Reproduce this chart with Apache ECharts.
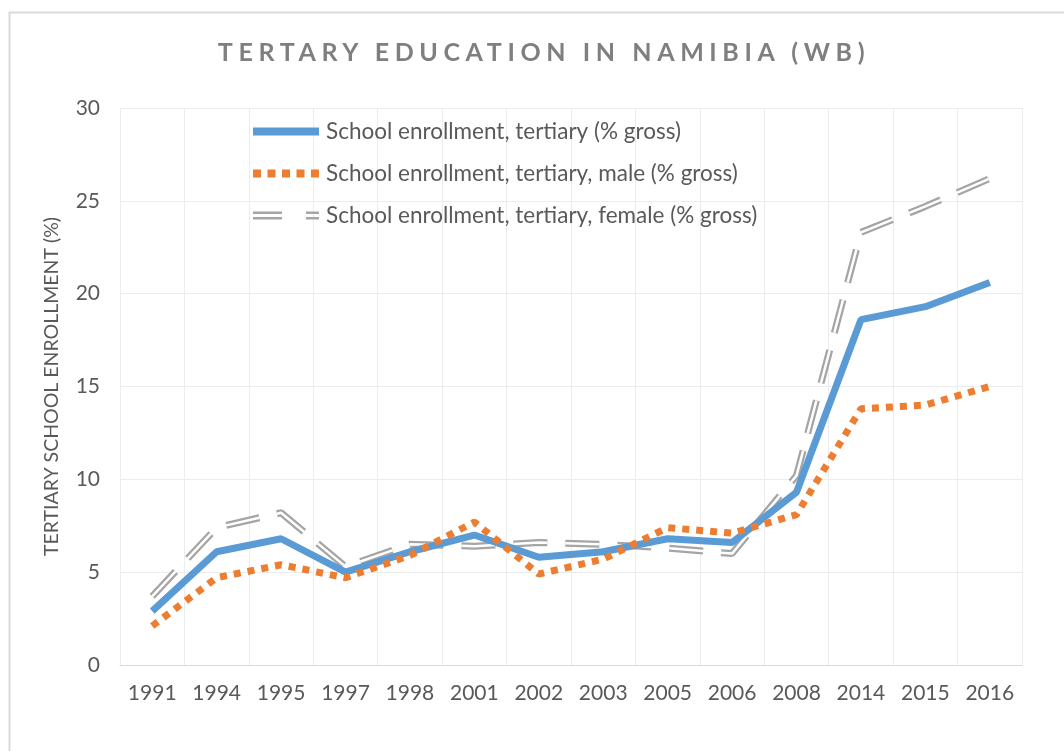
<!DOCTYPE html>
<html lang="en">
<head>
    <meta charset="UTF-8">
    <title>Tertiary education in Namibia</title>
    <style>
        html, body { margin: 0; padding: 0; background: #fff; }
        #wrap { position: relative; width: 1064px; height: 751px; overflow: hidden; }
        #title {
            position: absolute; left: 12px; top: 36px; width: 1064px; text-align: center;
            font-family: Lato, sans-serif; font-weight: bold; font-size: 25px;
            letter-spacing: 5.6px; color: #7f7f7f;
        }
        #main { width: 1064px; height: 751px; }
    </style>
    <script src="https://cdn.jsdelivr.net/npm/echarts@6/dist/echarts.min.js"></script>
</head>
<body>
<div id="wrap">
    <div id="main"></div>
    <div id="title">TERTARY EDUCATION IN NAMIBIA (WB)</div>
</div>
<script>
    var years = ['1991', '1994', '1995', '1997', '1998', '2001', '2002', '2003', '2005', '2006', '2008', '2014', '2015', '2016'];
    var total = [2.9, 6.1, 6.8, 5.0, 6.1, 7.0, 5.8, 6.1, 6.8, 6.6, 9.3, 18.6, 19.3, 20.6];
    var male = [2.1, 4.7, 5.4, 4.7, 5.9, 7.7, 4.9, 5.7, 7.4, 7.1, 8.1, 13.8, 14.0, 15.0];
    var female = [3.7, 7.4, 8.2, 5.3, 6.5, 6.4, 6.6, 6.5, 6.3, 6.0, 10.2, 23.3, 24.7, 26.2];
    var yTicks = [0, 5, 10, 15, 20, 25, 30];

    var nameTotal = 'School enrollment, tertiary (% gross)';
    var nameMale = 'School enrollment, tertiary, male (% gross)';
    var nameFemale = 'School enrollment, tertiary, female (% gross)';

    var myChart = echarts.init(document.getElementById('main'));
    var txt = '#595959';
    var font = 'Lato, sans-serif';

    myChart.setOption({
        animation: false,
        graphic: [{
            type: 'rect', left: 7, top: 10, shape: { width: 1100, height: 800 },
            style: { fill: 'none', stroke: '#d9d9d9', lineWidth: 2 }
        }],
        legend: {
            orient: 'vertical',
            left: 248,
            top: 115,
            itemWidth: 66,
            itemHeight: 8,
            itemGap: 19,
            textStyle: { color: txt, fontSize: 22.5, lineHeight: 22, fontFamily: font, padding: [0, 0, 0, 2] },
            data: [
                { name: nameTotal, icon: 'path://M0,0h66v8h-66z' },
                { name: nameMale, icon: 'path://M0,0h8v8h-8z M14.5,0h8v8h-8z M29,0h8v8h-8z M43.5,0h8v8h-8z M58,0h8v8h-8z' },
                { name: nameFemale, icon: 'path://M0,0h29v2.5h-29z M0,5.5h29v2.5h-29z M53,0h13v2.5h-13z M53,5.5h13v2.5h-13z' }
            ]
        },
        grid: { left: 120, right: 42, top: 108, bottom: 86 },
        xAxis: {
            type: 'category',
            data: years,
            axisTick: { show: false },
            axisLine: { lineStyle: { color: '#d9d9d9', width: 1 } },
            splitLine: { show: true, interval: 0, lineStyle: { color: '#ececec', width: 1 } },
            axisLabel: { color: txt, fontSize: 21, fontFamily: font, margin: 18, interval: 0 }
        },
        yAxis: {
            type: 'value',
            min: yTicks[0],
            max: yTicks[yTicks.length - 1],
            interval: 5,
            name: 'TERTIARY SCHOOL ENROLLMENT (%)',
            nameLocation: 'middle',
            nameGap: 58,
            nameTextStyle: { color: txt, fontSize: 19.5, fontFamily: font },
            axisLine: { show: false },
            axisTick: { show: false },
            splitLine: { lineStyle: { color: '#ececec', width: 1 } },
            axisLabel: { color: txt, fontSize: 21, fontFamily: font, margin: 20 }
        },
        series: [{
            name: nameFemale,
            type: 'line',
            data: female,
            symbol: 'none',
            color: '#a5a5a5',
            lineStyle: { color: '#a5a5a5', width: 7, type: [34, 18], cap: 'butt' },
            z: 2
        }, {
            name: 'female-gap',
            type: 'line',
            data: female,
            symbol: 'none',
            silent: true,
            lineStyle: { color: '#ffffff', width: 2.5, type: [34, 18], cap: 'butt' },
            z: 3
        }, {
            name: nameTotal,
            type: 'line',
            data: total,
            symbol: 'none',
            color: '#5b9bd5',
            lineStyle: { color: '#5b9bd5', width: 7 },
            z: 4
        }, {
            name: nameMale,
            type: 'line',
            data: male,
            symbol: 'none',
            color: '#ed7d31',
            lineStyle: { color: '#ed7d31', width: 7, type: [7, 7], cap: 'butt' },
            z: 5
        }]
    });
</script>
</body>
</html>
